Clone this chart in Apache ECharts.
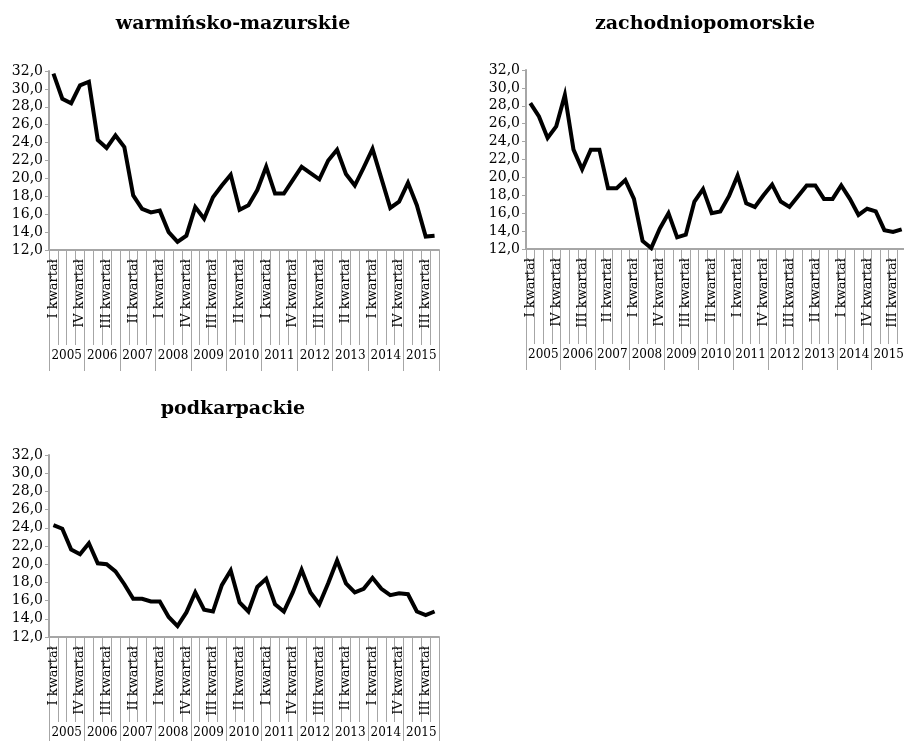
<!DOCTYPE html>
<html>
<head>
<meta charset="utf-8">
<script src="https://cdn.jsdelivr.net/npm/echarts@6/dist/echarts.min.js"></script>
<style>
  html, body { margin: 0; padding: 0; background: #fff; }
  #chart { width: 904px; height: 741px; }
</style>
</head>
<body>
<div id="chart"></div>
<script>
// lata i kwartały osi X
var years = ['2005', '2006', '2007', '2008', '2009', '2010', '2011', '2012', '2013', '2014', '2015'];
var quarters = ['I kwartał', 'II kwartał', 'III kwartał', 'IV kwartał'];

// wartości (kwartalnie 2005-2015)
var warminskoMazurskie = [31.7, 28.9, 28.4, 30.4, 30.8, 24.3, 23.4, 24.8, 23.5, 18.1, 16.6, 16.2,
  16.4, 14.0, 12.9, 13.6, 16.8, 15.5, 17.9, 19.2, 20.4, 16.5, 17.0, 18.7,
  21.3, 18.3, 18.3, 19.8, 21.3, 20.6, 19.9, 22.0, 23.2, 20.5, 19.2, 21.2,
  23.3, 20.0, 16.7, 17.4, 19.5, 17.0, 13.5, 13.6];
var zachodniopomorskie = [28.3, 26.8, 24.4, 25.7, 29.2, 23.1, 20.9, 23.1, 23.1, 18.8, 18.8, 19.7,
  17.6, 12.9, 12.1, 14.3, 16.0, 13.3, 13.6, 17.3, 18.7, 16.0, 16.2, 17.9,
  20.2, 17.1, 16.7, 18.0, 19.2, 17.3, 16.7, 17.9, 19.1, 19.1, 17.6, 17.6,
  19.1, 17.6, 15.8, 16.5, 16.2, 14.1, 13.9, 14.2];
var podkarpackie = [24.3, 23.9, 21.6, 21.1, 22.3, 20.1, 20.0, 19.2, 17.8, 16.2, 16.2, 15.9,
  15.9, 14.2, 13.2, 14.7, 16.9, 15.0, 14.8, 17.7, 19.3, 15.8, 14.8, 17.5,
  18.4, 15.6, 14.8, 16.9, 19.4, 16.9, 15.6, 17.9, 20.4, 17.9, 16.9, 17.3,
  18.5, 17.3, 16.6, 16.8, 16.7, 14.8, 14.4, 14.8];

var categories = [];
years.forEach(function (y) {
  quarters.forEach(function (q) { categories.push(y + '|' + q); });
});

var FONT = 'DejaVu Serif';
var GREY = '#a6a6a6';

var panels = [
  { name: 'warmińsko-mazurskie', data: warminskoMazurskie, left: 49, top: 71, width: 390, height: 179, cx: 233, ty: 10, qlen: 95 },
  { name: 'zachodniopomorskie', data: zachodniopomorskie, left: 526, top: 70, width: 380, height: 179, cx: 705, ty: 10, qlen: 95 },
  { name: 'podkarpackie', data: podkarpackie, left: 49, top: 455, width: 390, height: 182, cx: 233, ty: 395, qlen: 85 }
];

var option = {
  backgroundColor: '#fff',
  animation: false,
  title: [],
  grid: [],
  xAxis: [],
  yAxis: [],
  series: []
};

panels.forEach(function (p, i) {
  option.title.push({
    text: p.name,
    left: p.cx - 5,
    top: p.ty,
    textAlign: 'center',
    textStyle: { fontFamily: FONT, fontSize: 19, fontWeight: 'bold', color: '#000' }
  });
  option.grid.push({ left: p.left, top: p.top, width: p.width, height: p.height, outerBoundsMode: 'none', containLabel: false });
  // kwartały
  option.xAxis.push({
    type: 'category',
    gridIndex: i,
    data: categories,
    boundaryGap: true,
    axisLine: { show: true, lineStyle: { color: GREY, width: 2 } },
    axisTick: { show: true, interval: 0, length: p.qlen, lineStyle: { color: GREY, width: 1 } },
    axisLabel: {
      interval: 2,
      rotate: 90,
      margin: 9,
      fontFamily: FONT,
      fontSize: 13,
      color: '#000',
      formatter: function (v) { return v.split('|')[1]; }
    }
  });
  // lata
  option.xAxis.push({
    type: 'category',
    gridIndex: i,
    data: years,
    position: 'bottom',
    offset: p.qlen,
    boundaryGap: true,
    axisLine: { show: false },
    axisTick: { show: true, interval: 0, length: 26, lineStyle: { color: GREY, width: 1 } },
    axisLabel: { interval: 0, margin: 5, fontFamily: FONT, fontSize: 12, color: '#000' }
  });
  option.yAxis.push({
    type: 'value',
    gridIndex: i,
    min: 12,
    max: 32,
    interval: 2,
    splitLine: { show: false },
    axisLine: { show: true, lineStyle: { color: GREY, width: 2 } },
    axisTick: { show: true, length: 4, lineStyle: { color: GREY } },
    axisLabel: {
      margin: 6,
      fontFamily: FONT,
      fontSize: 14,
      color: '#000',
      formatter: function (v) { return v.toFixed(1).replace('.', ','); }
    }
  });
  option.series.push({
    type: 'line',
    xAxisIndex: i * 2,
    yAxisIndex: i,
    data: p.data,
    symbol: 'none',
    lineStyle: { color: '#000', width: 4, join: 'miter' }
  });
});

var chart = echarts.init(document.getElementById('chart'));
chart.setOption(option);
</script>
</body>
</html>
